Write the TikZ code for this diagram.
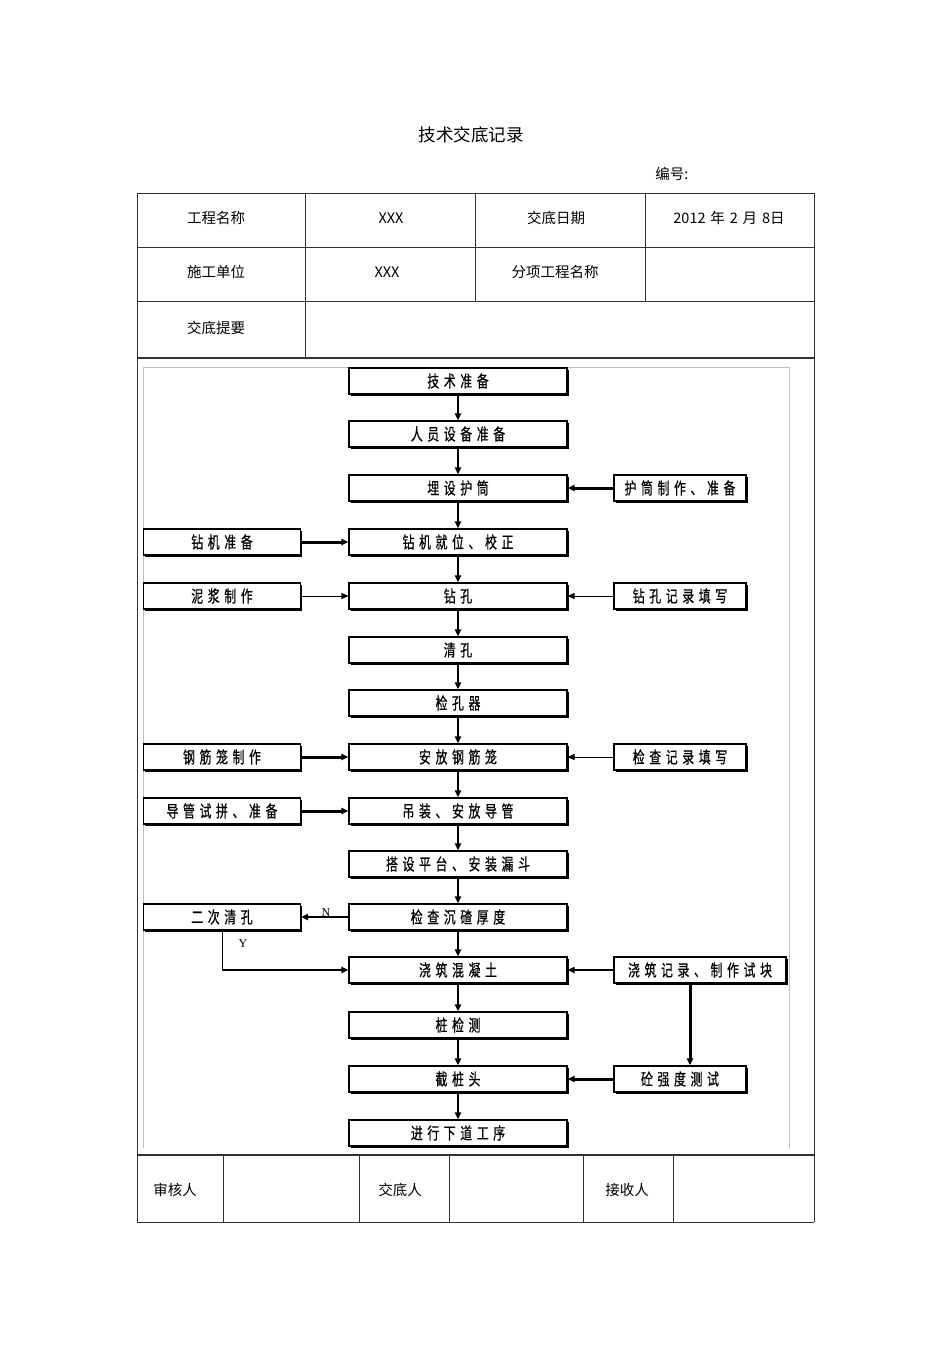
\documentclass[tikz,border=0pt]{standalone}
\usepackage{fontspec}
\setmainfont{Noto Sans CJK SC}
\newfontfamily\flowfont[FakeStretch=0.72,LetterSpace=28,FakeBold=0.6]{Noto Sans CJK SC}
\newfontfamily\ynfont{Liberation Serif}
\usetikzlibrary{arrows.meta,shadows}
\begin{document}
\begin{tikzpicture}[x=1pt,y=-1pt,
  tline/.style={draw=black!80,line width=1pt},
  tthick/.style={draw=black!80,line width=2pt},
  ttext/.style={font=\fontsize{14.5}{17}\selectfont,inner sep=0pt},
  fbox/.style={draw=black,line width=1.1pt,fill=white,minimum height=26pt,inner sep=0pt,
    font=\flowfont\fontsize{16.5}{18}\selectfont,
    drop shadow={shadow xshift=1.6pt,shadow yshift=-1.6pt,opacity=1,fill=black}},
  mbox/.style={fbox,minimum width=218pt},
  lbox/.style={fbox,minimum width=157pt},
  rbox/.style={fbox,minimum width=132pt},
  tip/.style={-{Triangle[length=7pt,width=6pt]}},
  down/.style={tip,line width=2pt},
  thin arrow/.style={tip,line width=0.9pt},
  mid arrow/.style={tip,line width=2pt},
  thick arrow/.style={tip,line width=3pt},
  yn/.style={font=\ynfont\fontsize{12}{13}\selectfont,inner sep=0pt}
]
\useasboundingbox (0,0) rectangle (950,1345);
\fill[white] (0,0) rectangle (950,1345);

% title
\node[inner sep=0pt,font=\fontsize{17.5}{20}\selectfont] (title) at (471,135) {技术交底记录};
\node[ttext] (num) at (672,174) {编号:};

% header table
\draw[tline] (137,193) -- (814,193);
\draw[tline] (137,247) -- (814,247);
\draw[tline] (137,301) -- (814,301);
\draw[tline] (137,193) -- (137,1222);
\draw[tline] (814,193) -- (814,1222);
\draw[tline] (305,193) -- (305,357);
\draw[tline] (475,193) -- (475,301);
\draw[tline] (645,193) -- (645,301);
\draw[tthick] (137,358) -- (814,358);

\node[ttext] (h1) at (216,218) {工程名称};
\node[ttext] (h2) at (391,218) {XXX};
\node[ttext] (h3) at (556,218) {交底日期};
\node[ttext] (h4) at (729,218) {2012\,\,年\,\,2\,\,月\,\,8日};
\node[ttext] (h5) at (216,272) {施工单位};
\node[ttext] (h6) at (387,272) {XXX};
\node[ttext] (h7) at (555,272) {分项工程名称};
\node[ttext] (h8) at (216,328) {交底提要};

% inner frame
\draw[black!25,line width=0.8pt] (143,1148) -- (143,367) -- (789,367) -- (789,1148);

% main column
\node[mbox] (m1)  at (458,381)  {技术准备};
\node[mbox] (m2)  at (458,434)  {人员设备准备};
\node[mbox] (m3)  at (458,488)  {埋设护筒};
\node[mbox] (m4)  at (458,542)  {钻机就位、校正};
\node[mbox] (m5)  at (458,596)  {钻孔};
\node[mbox] (m6)  at (458,650)  {清孔};
\node[mbox] (m7)  at (458,703)  {检孔器};
\node[mbox] (m8)  at (458,757)  {安放钢筋笼};
\node[mbox] (m9)  at (458,811)  {吊装、安放导管};
\node[mbox] (m10) at (458,864)  {搭设平台、安装漏斗};
\node[mbox] (m11) at (458,917)  {检查沉碴厚度};
\node[mbox] (m12) at (458,970)  {浇筑混凝土};
\node[mbox] (m13) at (458,1025) {桩检测};
\node[mbox] (m14) at (458,1079) {截桩头};
\node[mbox] (m15) at (458,1133) {进行下道工序};

% left column
\node[lbox] (l1) at (222,542) {钻机准备};
\node[lbox] (l2) at (222,596) {泥浆制作};
\node[lbox] (l3) at (222,757) {钢筋笼制作};
\node[lbox] (l4) at (222,811) {导管试拼、准备};
\node[lbox] (l5) at (222,917) {二次清孔};

% right column
\node[rbox] (r1) at (680,488) {护筒制作、准备};
\node[rbox] (r2) at (680,596) {钻孔记录填写};
\node[rbox] (r3) at (680,757) {检查记录填写};
\node[fbox,minimum width=172pt] (r4) at (700,970) {浇筑记录、制作试块};
\node[rbox] (r5) at (680,1079) {砼强度测试};

% main downward arrows
\foreach \a/\b in {m1/m2,m2/m3,m3/m4,m4/m5,m5/m6,m6/m7,m7/m8,m8/m9,m9/m10,m10/m11,m11/m12,m12/m13,m13/m14,m14/m15}
  \draw[down] (\a.south) -- (\b.north);

% left inputs
\draw[thick arrow] (l1.east) -- (m4.west);
\draw[thin arrow]  (l2.east) -- (m5.west);
\draw[thick arrow] (l3.east) -- (m8.west);
\draw[thick arrow] (l4.east) -- (m9.west);

% right inputs
\draw[thick arrow] (r1.west) -- (m3.east);
\draw[thin arrow]  (r2.west) -- (m5.east);
\draw[thin arrow]  (r3.west) -- (m8.east);
\draw[mid arrow]   (r4.west) -- (m12.east);
\draw[thick arrow] (r5.west) -- (m14.east);

% N / Y loop
\draw[mid arrow] (m11.west) -- (l5.east);
\node[yn] (nlab) at (326,913) {N};
\coordinate (ycorner) at (l5.south |- m12.west);
\draw[black,line width=0.9pt] (l5.south) -- (ycorner);
\draw[mid arrow] (ycorner) -- (m12.west);
\node[yn] (ylab) at (243,944) {Y};

% record -> strength test
\coordinate (cx) at (690,0);
\draw[thick arrow] (r4.south -| cx) -- (r5.north -| cx);

% footer table
\draw[tthick] (137,1155) -- (814,1155);
\draw[tline] (137,1222) -- (814,1222);
\foreach \x in {223,359,449,583,673}
  \draw[tline] (\x,1155) -- (\x,1222);
\node[ttext] (f1) at (175,1190) {审核人};
\node[ttext] (f2) at (400,1190) {交底人};
\node[ttext] (f3) at (627,1190) {接收人};
\end{tikzpicture}
\end{document}
